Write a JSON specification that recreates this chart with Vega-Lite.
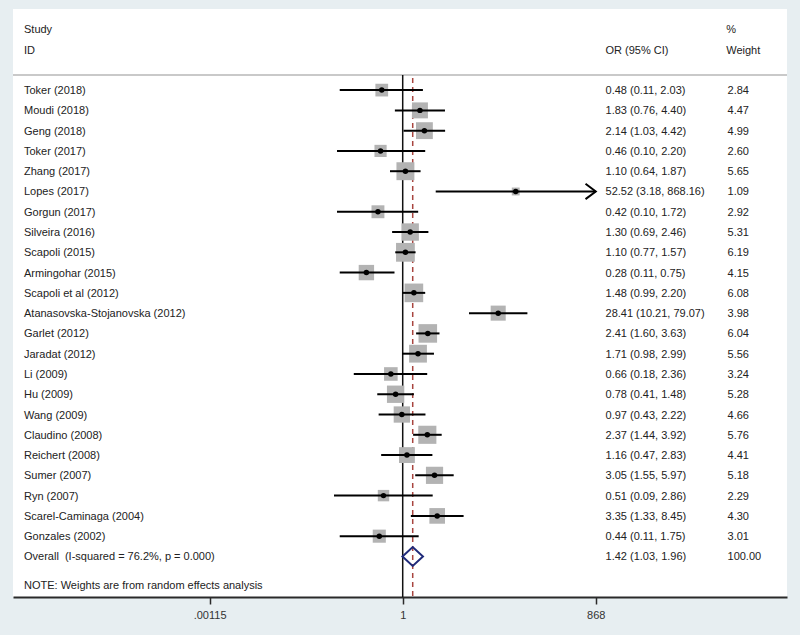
{
  "$schema": "https://vega.github.io/schema/vega-lite/v6.json",
  "width": 774,
  "height": 588,
  "autosize": "none",
  "padding": {"left": 13, "top": 9, "right": 13, "bottom": 38},
  "background": "#e7eef1",
  "config": {
    "view": {"fill": "white", "stroke": null},
    "font": "Liberation Sans",
    "text": {"font": "Liberation Sans", "fontSize": 11, "color": "#222222", "align": "left", "baseline": "middle", "dy": 1}
  },
  "datasets": {
    "studies": [
      {"study": "Toker (2018)", "or": 0.48, "lo": 0.11, "hi": 2.03, "w": 2.84, "ci": "0.48 (0.11, 2.03)", "wt": "2.84", "kind": "study"},
      {"study": "Moudi (2018)", "or": 1.83, "lo": 0.76, "hi": 4.40, "w": 4.47, "ci": "1.83 (0.76, 4.40)", "wt": "4.47", "kind": "study"},
      {"study": "Geng (2018)", "or": 2.14, "lo": 1.03, "hi": 4.42, "w": 4.99, "ci": "2.14 (1.03, 4.42)", "wt": "4.99", "kind": "study"},
      {"study": "Toker (2017)", "or": 0.46, "lo": 0.10, "hi": 2.20, "w": 2.60, "ci": "0.46 (0.10, 2.20)", "wt": "2.60", "kind": "study"},
      {"study": "Zhang (2017)", "or": 1.10, "lo": 0.64, "hi": 1.87, "w": 5.65, "ci": "1.10 (0.64, 1.87)", "wt": "5.65", "kind": "study"},
      {"study": "Lopes (2017)", "or": 52.52, "lo": 3.18, "hi": 868.16, "w": 1.09, "ci": "52.52 (3.18, 868.16)", "wt": "1.09", "kind": "study"},
      {"study": "Gorgun (2017)", "or": 0.42, "lo": 0.10, "hi": 1.72, "w": 2.92, "ci": "0.42 (0.10, 1.72)", "wt": "2.92", "kind": "study"},
      {"study": "Silveira (2016)", "or": 1.30, "lo": 0.69, "hi": 2.46, "w": 5.31, "ci": "1.30 (0.69, 2.46)", "wt": "5.31", "kind": "study"},
      {"study": "Scapoli (2015)", "or": 1.10, "lo": 0.77, "hi": 1.57, "w": 6.19, "ci": "1.10 (0.77, 1.57)", "wt": "6.19", "kind": "study"},
      {"study": "Armingohar (2015)", "or": 0.28, "lo": 0.11, "hi": 0.75, "w": 4.15, "ci": "0.28 (0.11, 0.75)", "wt": "4.15", "kind": "study"},
      {"study": "Scapoli et al (2012)", "or": 1.48, "lo": 0.99, "hi": 2.20, "w": 6.08, "ci": "1.48 (0.99, 2.20)", "wt": "6.08", "kind": "study"},
      {"study": "Atanasovska-Stojanovska (2012)", "or": 28.41, "lo": 10.21, "hi": 79.07, "w": 3.98, "ci": "28.41 (10.21, 79.07)", "wt": "3.98", "kind": "study"},
      {"study": "Garlet (2012)", "or": 2.41, "lo": 1.60, "hi": 3.63, "w": 6.04, "ci": "2.41 (1.60, 3.63)", "wt": "6.04", "kind": "study"},
      {"study": "Jaradat (2012)", "or": 1.71, "lo": 0.98, "hi": 2.99, "w": 5.56, "ci": "1.71 (0.98, 2.99)", "wt": "5.56", "kind": "study"},
      {"study": "Li (2009)", "or": 0.66, "lo": 0.18, "hi": 2.36, "w": 3.24, "ci": "0.66 (0.18, 2.36)", "wt": "3.24", "kind": "study"},
      {"study": "Hu (2009)", "or": 0.78, "lo": 0.41, "hi": 1.48, "w": 5.28, "ci": "0.78 (0.41, 1.48)", "wt": "5.28", "kind": "study"},
      {"study": "Wang (2009)", "or": 0.97, "lo": 0.43, "hi": 2.22, "w": 4.66, "ci": "0.97 (0.43, 2.22)", "wt": "4.66", "kind": "study"},
      {"study": "Claudino (2008)", "or": 2.37, "lo": 1.44, "hi": 3.92, "w": 5.76, "ci": "2.37 (1.44, 3.92)", "wt": "5.76", "kind": "study"},
      {"study": "Reichert (2008)", "or": 1.16, "lo": 0.47, "hi": 2.83, "w": 4.41, "ci": "1.16 (0.47, 2.83)", "wt": "4.41", "kind": "study"},
      {"study": "Sumer (2007)", "or": 3.05, "lo": 1.55, "hi": 5.97, "w": 5.18, "ci": "3.05 (1.55, 5.97)", "wt": "5.18", "kind": "study"},
      {"study": "Ryn (2007)", "or": 0.51, "lo": 0.09, "hi": 2.86, "w": 2.29, "ci": "0.51 (0.09, 2.86)", "wt": "2.29", "kind": "study"},
      {"study": "Scarel-Caminaga (2004)", "or": 3.35, "lo": 1.33, "hi": 8.45, "w": 4.30, "ci": "3.35 (1.33, 8.45)", "wt": "4.30", "kind": "study"},
      {"study": "Gonzales (2002)", "or": 0.44, "lo": 0.11, "hi": 1.75, "w": 3.01, "ci": "0.44 (0.11, 1.75)", "wt": "3.01", "kind": "study"},
      {"study": "Overall\u00a0\u00a0(I-squared = 76.2%, p = 0.000)", "or": 1.42, "lo": 1.03, "hi": 1.96, "w": 100, "ci": "1.42 (1.03, 1.96)", "wt": "100.00", "kind": "overall"}
    ],
    "headers": [
      {"label": "Study", "col": "id", "line": -2},
      {"label": "ID", "col": "id", "line": -1},
      {"label": "OR (95% CI)", "col": "or", "line": -1},
      {"label": "%", "col": "wt", "line": -2},
      {"label": "Weight", "col": "wt", "line": -1},
      {"label": "NOTE: Weights are from random effects analysis", "col": "id", "line": 25.4}
    ],
    "one": [{"t": 0}]
  },
  "layer": [
    {
      "data": {"name": "one"},
      "mark": {"type": "rule", "color": "#c9c9c9", "strokeWidth": 2},
      "encoding": {"y": {"datum": 0.25, "type": "quantitative", "scale": {"domain": [-3, 26], "reverse": true, "nice": false, "zero": false}, "axis": null}}
    },
    {
      "data": {"name": "one"},
      "mark": {"type": "rule", "color": "#111111", "strokeWidth": 1.5},
      "encoding": {
        "x": {"datum": 1, "type": "quantitative",
          "scale": {"type": "log", "domain": [1.17e-6, 7.07e5], "nice": false},
          "axis": {"values": [0.00115, 1, 868], "labelExpr": "datum.value < 0.01 ? '.00115' : (datum.value < 10 ? '1' : '868')", "title": null, "grid": false, "domainColor": "#2a2a2a", "domainWidth": 2, "tickColor": "#2a2a2a", "tickWidth": 1.5, "tickSize": 7, "labelFont": "Liberation Sans", "labelFontSize": 11, "labelColor": "#333333", "labelPadding": 5, "labelFlush": false}},
        "y": {"datum": 0.25, "type": "quantitative"},
        "y2": {"datum": 26}
      }
    },
    {
      "data": {"name": "one"},
      "mark": {"type": "rule", "color": "#a8453f", "strokeWidth": 1.5, "strokeDash": [5, 4]},
      "encoding": {
        "x": {"datum": 1.42, "type": "quantitative"},
        "y": {"datum": 0.4, "type": "quantitative"},
        "y2": {"datum": 26}
      }
    },
    {
      "data": {"name": "studies"},
      "transform": [{"window": [{"op": "row_number", "as": "row"}]}, {"filter": "datum.kind == 'study'"}],
      "mark": {"type": "square", "filled": true, "color": "#b3b3b3", "opacity": 1},
      "encoding": {
        "x": {"field": "or", "type": "quantitative"},
        "y": {"field": "row", "type": "quantitative"},
        "size": {"field": "w", "type": "quantitative", "scale": {"type": "linear", "domain": [0, 10], "range": [0, 570], "zero": true}, "legend": null}
      }
    },
    {
      "data": {"name": "studies"},
      "transform": [{"window": [{"op": "row_number", "as": "row"}]}, {"filter": "datum.kind == 'study'"}],
      "mark": {"type": "rule", "color": "#000000", "strokeWidth": 2},
      "encoding": {
        "x": {"field": "lo", "type": "quantitative"},
        "x2": {"field": "hi"},
        "y": {"field": "row", "type": "quantitative"}
      }
    },
    {
      "data": {"name": "studies"},
      "transform": [{"window": [{"op": "row_number", "as": "row"}]}, {"filter": "datum.kind == 'study'"}],
      "mark": {"type": "point", "shape": "circle", "filled": true, "color": "#000000", "opacity": 1, "size": 30},
      "encoding": {"x": {"field": "or", "type": "quantitative"}, "y": {"field": "row", "type": "quantitative"}}
    },
    {
      "data": {"name": "studies"},
      "transform": [{"window": [{"op": "row_number", "as": "row"}]}, {"filter": "datum.hi > 800"}],
      "mark": {"type": "point", "shape": "M-1,-0.75L0,0L-1,0.75", "filled": false, "stroke": "#000000", "strokeWidth": 2, "opacity": 1, "size": 420},
      "encoding": {"x": {"field": "hi", "type": "quantitative"}, "y": {"field": "row", "type": "quantitative"}}
    },
    {
      "data": {"name": "studies"},
      "transform": [{"window": [{"op": "row_number", "as": "row"}]}, {"filter": "datum.kind == 'overall'"}],
      "mark": {"type": "point", "shape": "M-1,0L0,-0.92L1,0L0,0.92Z", "filled": false, "stroke": "#1f2a7a", "strokeWidth": 2, "opacity": 1, "size": 420},
      "encoding": {"x": {"field": "or", "type": "quantitative"}, "y": {"field": "row", "type": "quantitative"}}
    },
    {
      "data": {"name": "studies"},
      "transform": [{"window": [{"op": "row_number", "as": "row"}]}],
      "mark": {"type": "text"},
      "encoding": {"x": {"datum": 1.72e-6, "type": "quantitative"}, "y": {"field": "row", "type": "quantitative"}, "text": {"field": "study"}}
    },
    {
      "data": {"name": "studies"},
      "transform": [{"window": [{"op": "row_number", "as": "row"}]}],
      "mark": {"type": "text"},
      "encoding": {"x": {"datum": 1222, "type": "quantitative"}, "y": {"field": "row", "type": "quantitative"}, "text": {"field": "ci"}}
    },
    {
      "data": {"name": "studies"},
      "transform": [{"window": [{"op": "row_number", "as": "row"}]}],
      "mark": {"type": "text"},
      "encoding": {"x": {"datum": 87900, "type": "quantitative"}, "y": {"field": "row", "type": "quantitative"}, "text": {"field": "wt"}}
    },
    {
      "data": {"name": "headers"},
      "transform": [{"filter": "datum.col == 'id'"}],
      "mark": {"type": "text"},
      "encoding": {"x": {"datum": 1.72e-6, "type": "quantitative"}, "y": {"field": "line", "type": "quantitative"}, "text": {"field": "label"}}
    },
    {
      "data": {"name": "headers"},
      "transform": [{"filter": "datum.col == 'or'"}],
      "mark": {"type": "text"},
      "encoding": {"x": {"datum": 1222, "type": "quantitative"}, "y": {"field": "line", "type": "quantitative"}, "text": {"field": "label"}}
    },
    {
      "data": {"name": "headers"},
      "transform": [{"filter": "datum.col == 'wt'"}],
      "mark": {"type": "text"},
      "encoding": {"x": {"datum": 84000, "type": "quantitative"}, "y": {"field": "line", "type": "quantitative"}, "text": {"field": "label"}}
    }
  ]
}
